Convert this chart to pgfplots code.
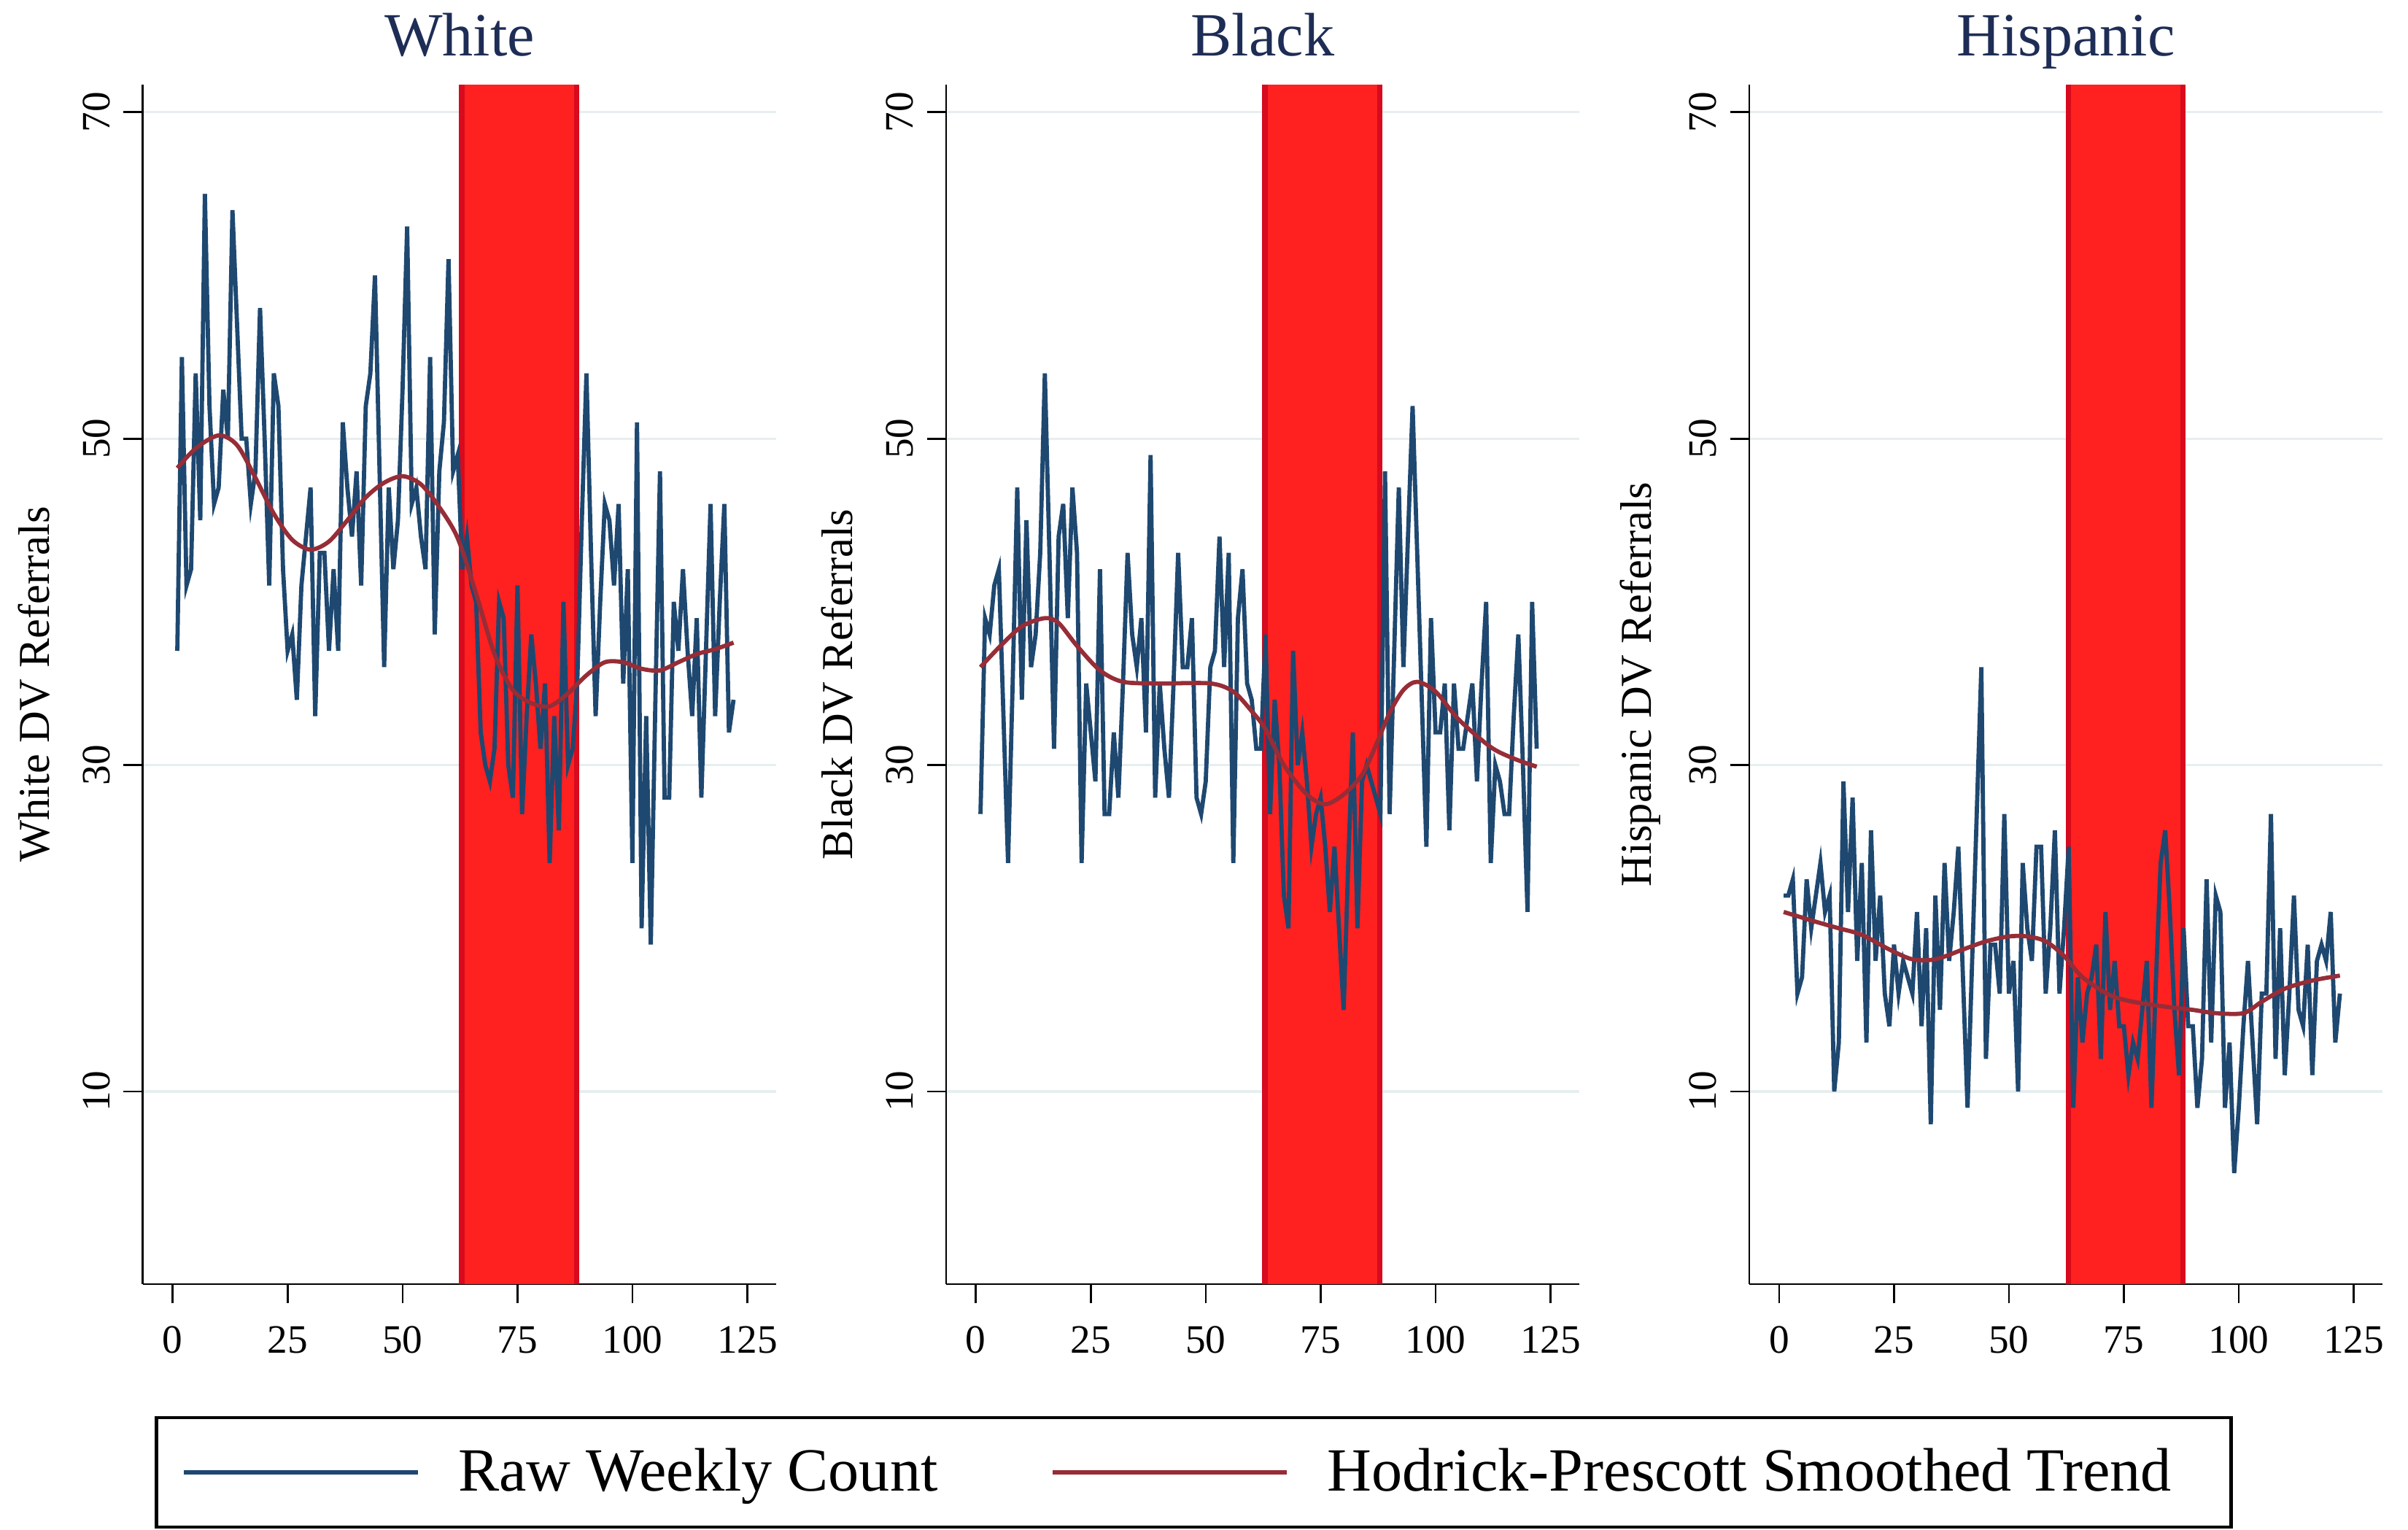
\documentclass[border=0pt]{standalone}
\usepackage{fontspec}
\setmainfont{Liberation Serif}
\usepackage{pgfplots}
\usepackage{pgfplotstable}
\pgfplotsset{compat=1.18}

\definecolor{rawc}{RGB}{30,72,112}
\definecolor{trendc}{RGB}{150,45,55}
\definecolor{bandfill}{RGB}{255,32,32}
\definecolor{bandedge}{RGB}{215,10,30}
\definecolor{gridc}{RGB}{230,238,240}
\definecolor{titlec}{RGB}{30,45,85}

\pgfplotstableread{
w white black hisp
1 37 27 22
2 55 39 22
3 41 38 23
4 42 41 16
5 54 42 17
6 45 33 23
7 65 24 20
8 52 35 22
9 46 47 24
10 47 34 21
11 53 45 22
12 50 36 10
13 64 38 13
14 57 43 29
15 50 54 21
16 50 43 28
17 46 31 18
18 48 44 24
19 58 46 13
20 50 39 26
21 41 47 18
22 54 43 22
23 52 24 16
24 42 35 14
25 37 32 19
26 38 29 16
27 34 42 18
28 41 27 17
29 44 27 16
30 47 32 21
31 33 28 14
32 43 35 20
33 43 43 8
34 37 38 22
35 42 36 15
36 37 39 24
37 51 32 18
38 47 49 21
39 44 28 25
40 48 35 17
41 41 31 9
42 52 28 18
43 54 35 27
44 60 43 36
45 48 36 12
46 36 36 19
47 47 39 19
48 42 28 16
49 45 27 27
50 53 29 16
51 63 36 18
52 46 37 10
53 47 44 24
54 44 36 20
55 42 43 18
56 55 24 25
57 38 39 25
58 48 42 16
59 51 35 20
60 61 34 26
61 48 31 16
62 49 31 20
63 42 38 25
64 44 27 9
65 41 34 17
66 40 30 13
67 32 22 16
68 30 20 17
69 29 37 19
70 31 30 12
71 40 32 21
72 39 29 15
73 30 25 18
74 28 27 14
75 41 28 14
76 27 25 11
77 33 21 13
78 38 25 12
79 35 20 15
80 31 15 18
81 35 24 9
82 24 32 17
83 33 20 24
84 26 29 26
85 40 30 21
86 30 29 15
87 31 28 11
88 35 27 20
89 45 48 14
90 54 27 14
91 43 37 9
92 33 47 12
93 40 36 23
94 46 44 13
95 45 52 22
96 41 43 21
97 46 34 9
98 35 25 13
99 42 39 5
100 24 32 9
101 51 32 14
102 20 35 18
103 33 26 13
104 19 35 8
105 34 31 16
106 48 31 16
107 28 33 27
108 28 35 12
109 40 29 20
110 37 35 11
111 42 40 16
112 37 24 22
113 33 30 15
114 39 29 14
115 28 27 19
116 37 27 11
117 46 33 18
118 33 38 19
119 40 30 18
120 46 21 21
121 32 40 13
122 34 31 16
}\rawtab

\pgfplotstableread{
w v
1 48.2
5 49.4
10 50.2
14 49.6
18 47.6
22 45.4
26 43.8
30 43.2
34 43.7
38 45.0
42 46.4
46 47.3
50 47.7
54 47.2
58 45.8
62 43.9
66 40.5
70 36.8
74 34.6
78 33.8
82 33.6
86 34.4
90 35.5
94 36.3
98 36.3
102 35.9
106 35.8
110 36.3
114 36.8
118 37.1
122 37.5
}\trwhite

\pgfplotstableread{
w v
1 36.0
5 37.2
10 38.5
15 39.0
18 38.7
22 37.3
27 35.8
32 35.1
40 35.0
51 35.0
56 34.5
60 33.3
63 32.2
67 30.0
72 28.2
76 27.6
80 28.2
84 29.4
87 31.2
90 33.2
93 34.6
96 35.1
100 34.5
105 32.8
112 31.1
117 30.4
122 29.9
}\trblack

\pgfplotstableread{
w v
1 21.0
8 20.4
13 20.0
18 19.6
24 18.7
29 18.1
34 18.1
40 18.7
45 19.2
50 19.5
54 19.5
58 19.2
62 18.3
66 17.0
72 15.9
77 15.5
84 15.2
90 15.0
95 14.8
101 14.8
105 15.5
110 16.3
116 16.8
122 17.1
}\trhisp

\pgfplotsset{
  panel/.style={
    scale only axis, width=165pt, height=312.4pt,
    xmin=-6.5, xmax=131.3, ymin=-1.8, ymax=71.7,
    axis x line*=bottom, axis y line*=left,
    axis line style={line width=0.5pt, black},
    xtick={0,25,50,75,100,125}, ytick={10,30,50,70},
    tick align=outside, major tick length=5pt,
    tick style={line width=0.5pt, black},
    ymajorgrids, grid style={line width=0.6pt, color=gridc},
    tick label style={font=\fontsize{10.5}{12}\selectfont},
    xticklabel style={yshift=-2.5pt},
    yticklabel style={rotate=90, anchor=south},
    /pgf/number format/assume math mode=true,
    title style={font=\fontsize{16}{19}\selectfont, color=titlec,
      at={(axis description cs:0.5,1.0224)}, anchor=base, yshift=-5.5pt},
    ylabel style={font=\fontsize{11.5}{14}\selectfont,
      at={(axis description cs:-0.1721,0.5)}, anchor=center},
  },
  band/.style={draw=none, fill=bandfill, forget plot},
  bandline/.style={bandedge, line width=1.4pt, forget plot},
  rawline/.style={rawc, line width=1.1pt},
  trendline/.style={trendc, line width=1.1pt, smooth},
}

\begin{document}
\begin{tikzpicture}
\useasboundingbox (-37.2pt,-64pt) rectangle (590pt,334.4pt);

\begin{axis}[panel, at={(0pt,0pt)}, anchor=south west,
  title={White}, ylabel={White DV Referrals},
  legend columns=2,
  legend image code/.code={\draw[#1] (0pt,0pt) -- (61pt,0pt);},
  legend style={at={(axis description cs:1.659,-0.1569)}, anchor=center,
    draw=black, line width=0.8pt, inner xsep=6.5pt, inner ysep=6pt,
    font=\fontsize{16}{18}\selectfont,
    /tikz/every even column/.append style={column sep=27.4pt},
    /tikz/every odd column/.append style={column sep=8pt}},
]
\addplot[band] coordinates {(62.5,-1.8) (62.5,71.7) (88.3,71.7) (88.3,-1.8)} -- cycle;
\addplot[bandline] coordinates {(62.9,-1.8) (62.9,71.7)};
\addplot[bandline] coordinates {(87.9,-1.8) (87.9,71.7)};
\addplot[rawline] table[x=w, y=white] {\rawtab};
\addplot[trendline] table[x=w, y=v] {\trwhite};
\legend{Raw Weekly Count, Hodrick-Prescott Smoothed Trend\hspace*{7pt}}
\end{axis}

\begin{axis}[panel, at={(209.2pt,0pt)}, anchor=south west,
  title={Black}, ylabel={Black DV Referrals}]
\addplot[band] coordinates {(62.5,-1.8) (62.5,71.7) (88.3,71.7) (88.3,-1.8)} -- cycle;
\addplot[bandline] coordinates {(62.9,-1.8) (62.9,71.7)};
\addplot[bandline] coordinates {(87.9,-1.8) (87.9,71.7)};
\addplot[rawline] table[x=w, y=black] {\rawtab};
\addplot[trendline] table[x=w, y=v] {\trblack};
\end{axis}

\begin{axis}[panel, at={(418.4pt,0pt)}, anchor=south west,
  title={Hispanic}, ylabel={Hispanic DV Referrals}]
\addplot[band] coordinates {(62.5,-1.8) (62.5,71.7) (88.3,71.7) (88.3,-1.8)} -- cycle;
\addplot[bandline] coordinates {(62.9,-1.8) (62.9,71.7)};
\addplot[bandline] coordinates {(87.9,-1.8) (87.9,71.7)};
\addplot[rawline] table[x=w, y=hisp] {\rawtab};
\addplot[trendline] table[x=w, y=v] {\trhisp};
\end{axis}
\end{tikzpicture}
\end{document}
